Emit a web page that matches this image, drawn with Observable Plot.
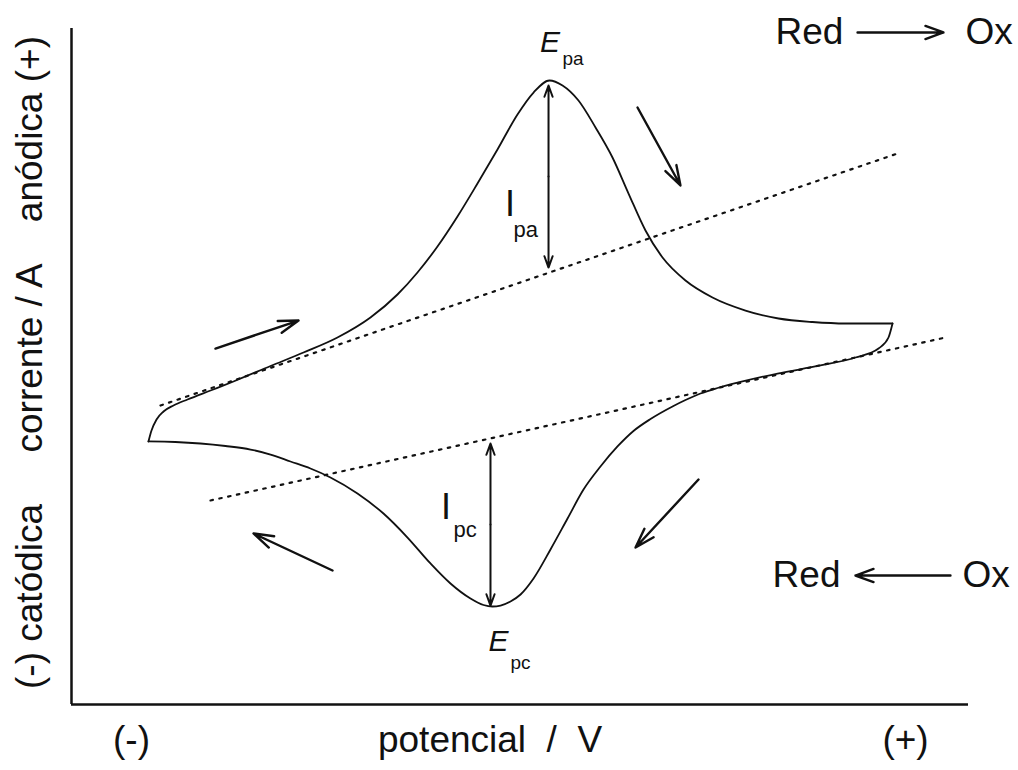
<!DOCTYPE html>
<html>
<head>
<meta charset="utf-8">
<script src="https://cdn.jsdelivr.net/npm/d3@7"></script>
<script src="https://cdn.jsdelivr.net/npm/@observablehq/plot@0.6"></script>
<style>
  html, body { margin: 0; padding: 0; background: #fff; }
  #chart svg { display: block; }
</style>
</head>
<body>
<div id="chart"></div>
<script>
// ---- Data (arbitrary units: potential 0–100, current 0–100) ----
// Forward (anodic) scan: left vertex -> right vertex
const forwardE = [8.58, 8.92, 9.48, 10.26, 11.37, 12.93, 15.50, 18.06, 22.19, 25.86, 29.65, 33.33, 36.34, 38.57, 40.80, 43.03, 45.26, 47.49, 49.72, 51.51, 53.29, 54.74, 56.52, 58.42, 60.31, 62.10, 63.99, 65.89, 68.45, 71.46, 75.14, 78.82, 82.61, 86.29, 91.53];
const forwardI = [38.91, 40.53, 42.16, 43.34, 44.23, 45.12, 46.45, 47.78, 50.07, 52.07, 54.29, 57.25, 60.65, 63.91, 67.75, 72.19, 77.07, 82.10, 87.28, 90.53, 92.31, 91.57, 89.35, 85.36, 80.92, 75.59, 70.12, 66.12, 62.72, 60.21, 58.28, 57.10, 56.58, 56.36, 56.36];
// Reverse (cathodic) scan: right vertex -> left vertex
const reverseE = [91.53, 91.08, 89.97, 87.40, 83.50, 78.71, 74.58, 72.02, 70.12, 68.45, 67.11, 64.55, 62.65, 60.87, 58.97, 57.08, 55.30, 53.40, 51.51, 50.06, 48.94, 47.83, 46.93, 45.93, 44.48, 42.25, 40.02, 37.46, 34.78, 31.88, 28.87, 26.64, 24.41, 22.19, 19.96, 17.17, 14.38, 11.59, 8.58];
const reverseI = [56.36, 54.29, 52.66, 51.33, 50.15, 48.96, 47.71, 46.82, 46.01, 45.04, 44.16, 42.23, 40.46, 38.17, 35.21, 31.80, 27.51, 22.93, 18.64, 16.27, 15.24, 14.64, 14.50, 14.72, 15.68, 17.90, 20.86, 24.70, 28.25, 31.21, 33.58, 34.91, 35.95, 36.98, 37.72, 38.24, 38.61, 38.83, 38.91];

// Extrapolated baselines (dotted)
const baselineNames = ["anodic", "cathodic"];
const baselineE1 = [9.92, 15.50];
const baselineI1 = [44.23, 30.18];
const baselineE2 = [92.09, 97.44];
const baselineI2 = [81.51, 54.29];

// Peak currents (double arrows): potential, peak current, baseline current
const peakNames = ["pa", "pc"];
const peakE = [53.18, 46.71];
const peakI = [91.57, 14.64];
const peakBase = [64.64, 38.61];

// Scan-direction arrows
const dirE1 = [16.05, 63.10, 69.90, 29.10];
const dirI1 = [52.66, 88.31, 33.28, 19.82];
const dirE2 = [25.31, 67.89, 62.88, 20.29];
const dirI2 = [56.80, 76.78, 23.22, 25.30];

// Reaction arrows (Red -> Ox, Red <- Ox)
const rxnE1 = [87.63, 97.99];
const rxnE2 = [97.21, 87.40];
const rxnI = [99.41, 19.08];
const rxnRedE = [86.06, 85.73];
const rxnOxE = [99.67, 99.33];

// Peak labels: main letter, subscript
const labelMain = ["E", "I", "I", "E"];
const labelSub = ["pa", "pa", "pc", "pc"];
const labelE = [53.35, 48.88, 41.75, 47.60];
const labelI = [97.93, 74.04, 29.22, 9.32];
const labelSubE = [54.74, 49.28, 42.59, 48.94];
const labelSubI = [95.56, 70.27, 25.89, 6.21];
const labelItalic = [true, false, false, true];

// Axis texts
const xTickLabels = ["(-)", "(+)"];
const xTickValues = [6.69, 92.98];
const xLabel = "potencial\u00a0\u00a0/\u00a0\u00a0V";
const xLabelE = 46.66;
const yLabel = "(-) catódica\u00a0\u00a0\u00a0\u00a0\u00a0corrente / A\u00a0\u00a0\u00a0\u00a0anódica (+)";

// ---- Build tables ----
const forward = forwardE.map((e, i) => ({E: e, I: forwardI[i]}));
const reverse = reverseE.map((e, i) => ({E: e, I: reverseI[i]}));
const baselines = baselineNames.flatMap((n, i) => [
  {name: n, E: baselineE1[i], I: baselineI1[i]},
  {name: n, E: baselineE2[i], I: baselineI2[i]}
]);
const peaks = peakNames.map((n, i) => ({name: n, E: peakE[i], top: peakI[i], base: peakBase[i], mid: (peakI[i] + peakBase[i]) / 2}));
const dirs = dirE1.map((e, i) => ({x1: e, y1: dirI1[i], x2: dirE2[i], y2: dirI2[i]}));
const rxns = rxnE1.map((e, i) => ({x1: e, x2: rxnE2[i], y: rxnI[i], red: rxnRedE[i], ox: rxnOxE[i]}));
const labels = labelMain.map((m, i) => ({main: m, sub: labelSub[i], E: labelE[i], I: labelI[i], sE: labelSubE[i], sI: labelSubI[i], italic: labelItalic[i]}));
const xTicks = xTickLabels.map((t, i) => ({label: t, E: xTickValues[i]}));

const font = "'Liberation Sans', Arial, Helvetica, sans-serif";
const ink = "#111";
const big = 37;

const chart = Plot.plot({
  width: 1018,
  height: 770,
  marginLeft: 71,
  marginRight: 50,
  marginTop: 28,
  marginBottom: 66,
  x: {domain: [0, 100], axis: null},
  y: {domain: [0, 100], axis: null},
  style: {fontFamily: font, background: "#fff", color: ink},
  marks: [
    // axes
    Plot.ruleX([0], {stroke: ink, strokeWidth: 2.5}),
    Plot.ruleY([0], {stroke: ink, strokeWidth: 2.5}),
    // dotted baselines
    Plot.line(baselines, {x: "E", y: "I", z: "name", stroke: ink, strokeWidth: 2.2, strokeDasharray: "2.5,6.5"}),
    // voltammogram
    Plot.line(forward, {x: "E", y: "I", stroke: ink, strokeWidth: 1.8, curve: "monotone-x"}),
    Plot.line(reverse, {x: "E", y: "I", stroke: ink, strokeWidth: 1.8, curve: "monotone-x"}),
    // peak current double arrows
    Plot.arrow(peaks, {x1: "E", y1: "mid", x2: "E", y2: "top", stroke: ink, strokeWidth: 2, headLength: 9, headAngle: 40}),
    Plot.arrow(peaks, {x1: "E", y1: "mid", x2: "E", y2: "base", stroke: ink, strokeWidth: 2, headLength: 9, headAngle: 40}),
    // scan direction arrows
    Plot.arrow(dirs, {x1: "x1", y1: "y1", x2: "x2", y2: "y2", stroke: ink, strokeWidth: 2.4, headLength: 13, headAngle: 35}),
    // reaction arrows
    Plot.arrow(rxns, {x1: "x1", y1: "y", x2: "x2", y2: "y", stroke: ink, strokeWidth: 2.4, headLength: 12, headAngle: 40}),
    Plot.text(rxns, {x: "red", y: "y", text: () => "Red", textAnchor: "end", fontSize: big, fill: ink}),
    Plot.text(rxns, {x: "ox", y: "y", text: () => "Ox", textAnchor: "start", fontSize: big, fill: ink}),
    // peak labels
    Plot.text(labels.filter(d => d.italic), {x: "E", y: "I", text: "main", fontSize: 30, fontStyle: "italic", fill: ink}),
    Plot.text(labels.filter(d => !d.italic), {x: "E", y: "I", text: "main", fontSize: 36, fill: ink}),
    Plot.text(labels.filter(d => d.italic), {x: "sE", y: "sI", text: "sub", fontSize: 19, textAnchor: "start", fill: ink}),
    Plot.text(labels.filter(d => !d.italic), {x: "sE", y: "sI", text: "sub", fontSize: 22, textAnchor: "start", fill: ink}),
    // x-axis texts
    Plot.text(xTicks, {x: "E", text: "label", frameAnchor: "bottom", dy: 47, fontSize: big, fill: ink}),
    Plot.text([xLabel], {x: () => xLabelE, text: d => d, frameAnchor: "bottom", dy: 47, fontSize: big, fill: ink}),
    // y-axis label
    Plot.text([yLabel], {text: d => d, frameAnchor: "left", textAnchor: "middle", dx: -41, dy: -4, rotate: -90, fontSize: big, fill: ink})
  ]
});
document.getElementById("chart").appendChild(chart);
</script>
</body>
</html>
